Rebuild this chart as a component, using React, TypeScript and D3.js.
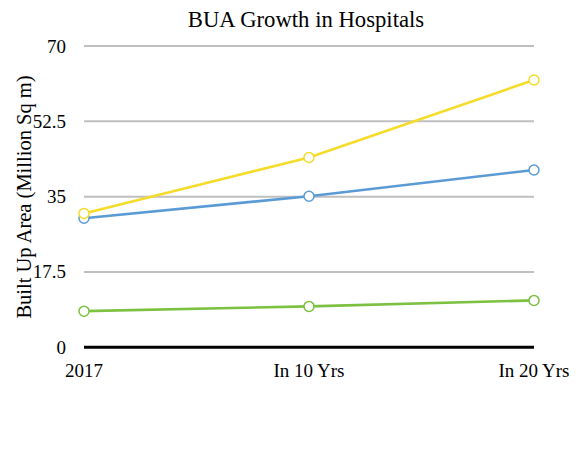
import React from "react";
import * as d3 from "d3";

const categories = ["2017", "In 10 Yrs", "In 20 Yrs"];
const yTicks = [0, 17.5, 35, 52.5, 70];
const seriesYellow = [31.1, 44.1, 62.1];
const seriesBlue = [30.0, 35.1, 41.2];
const seriesGreen = [8.4, 9.5, 10.9];
const seriesColors = ["#F5DC2A", "#5B9BD5", "#7DC142"];
const title = "BUA Growth in Hospitals";
const yLabel = "Built Up Area (Million Sq m)";

export default function App() {
  const W = 579, H = 458;
  const x = d3.scalePoint<string>().domain(categories).range([84, 534]);
  const y = d3.scaleLinear().domain([0, 70]).range([347.3, 46]);
  const line = d3.line<number>().x((_, i) => x(categories[i])!).y((d) => y(d));
  const series = [seriesBlue, seriesGreen, seriesYellow];
  const colors = [seriesColors[1], seriesColors[2], seriesColors[0]];
  const font = "'Liberation Serif', 'Times New Roman', serif";
  return (
    <svg width={W} height={H} style={{ position: "absolute", left: 0, top: 0, background: "#fff" }} fontFamily={font}>
      <rect width={W} height={H} fill="#fff" />
      <text x={306} y={27} textAnchor="middle" fontSize={22.7}>{title}</text>
      {yTicks.map((t) => (
        <g key={t}>
          {t !== 0 && <line x1={84} x2={534} y1={y(t)} y2={y(t)} stroke="#BFBFBF" strokeWidth={2} />}
          <text x={66} y={y(t) + 6.5} textAnchor="end" fontSize={19}>{t}</text>
        </g>
      ))}
      <line x1={84} x2={534} y1={y(0)} y2={y(0)} stroke="#000" strokeWidth={3} />
      {categories.map((c) => (
        <text key={c} x={x(c)} y={377} textAnchor="middle" fontSize={19}>{c}</text>
      ))}
      <text transform={`translate(31,197) rotate(-90)`} textAnchor="middle" fontSize={20.5}>{yLabel}</text>
      {series.map((s, si) => (
        <g key={si}>
          <path d={line(s)!} fill="none" stroke={colors[si]} strokeWidth={2.6} />
          {s.map((v, i) => (
            <circle key={i} cx={x(categories[i])} cy={y(v)} r={5} fill="#fff" stroke={colors[si]} strokeWidth={1.5} />
          ))}
        </g>
      ))}
    </svg>
  );
}
